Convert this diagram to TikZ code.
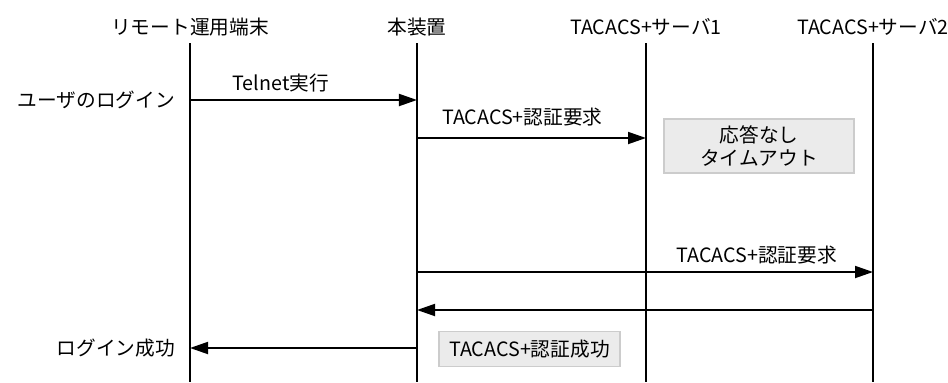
\documentclass[tikz,border=0pt]{standalone}
\usepackage{fontspec}
\setmainfont{Noto Sans CJK JP}
\usetikzlibrary{arrows.meta,positioning}
\definecolor{notegray}{RGB}{235,235,235}
\definecolor{noteedge}{RGB}{204,204,204}

\begin{document}
\begin{tikzpicture}[
    x=0.025cm, y=-0.025cm,
    hdr/.style={font=\fontsize{14}{17}\selectfont, inner sep=0pt},
    lbl/.style={font=\fontsize{14}{17}\selectfont, inner sep=2pt},
    life/.style={draw, line width=0.9pt},
    msg/.style={draw, line width=1.3pt, -{Triangle[length=0.45cm, width=0.3cm]}},
    note/.style={draw=noteedge, fill=notegray, line width=1pt, inner sep=0pt,
                 font=\fontsize{14}{17}\selectfont, align=center}
]
\useasboundingbox (0,0) rectangle (948,382);

% lifelines
\foreach \n/\x/\t in {rem/190/リモート運用端末, dev/417/本装置, srva/646/TACACS+サーバ1, srvb/873/TACACS+サーバ2} {
    \node[hdr] (\n) at (\x,27) {\t};
    \coordinate (\n top) at (\x,43);
    \coordinate (\n end) at (\x,382);
    \draw[life] (\n top) -- (\n end);
}

% messages
\draw[msg] (rem |- 0,100) -- node[lbl, above=0.1cm, pos=0.4] {Telnet実行} (dev |- 0,100);
\node[lbl, left=0.3cm] (login) at (rem |- 0,100) {ユーザのログイン};

\draw[msg] (dev |- 0,138) -- node[lbl, above=0.2cm, pos=0.46] {TACACS+認証要求} (srva |- 0,138);
\node[note, minimum width=4.75cm, minimum height=1.35cm] (timeout) at (759,146) {応答なし\\タイムアウト};

\draw[msg] (dev |- 0,272) -- node[lbl, above=0.1cm, pos=0.745] {TACACS+認証要求} (srvb |- 0,272);
\draw[msg] (srvb |- 0,310) -- (dev |- 0,310);

\draw[msg] (dev |- 0,348) -- (rem |- 0,348);
\node[lbl, left=0.3cm] (success) at (rem |- 0,348) {ログイン成功};
\node[note, minimum width=4.525cm, minimum height=0.875cm] (authok) at (529.5,349) {TACACS+認証成功};
\end{tikzpicture}
\end{document}
